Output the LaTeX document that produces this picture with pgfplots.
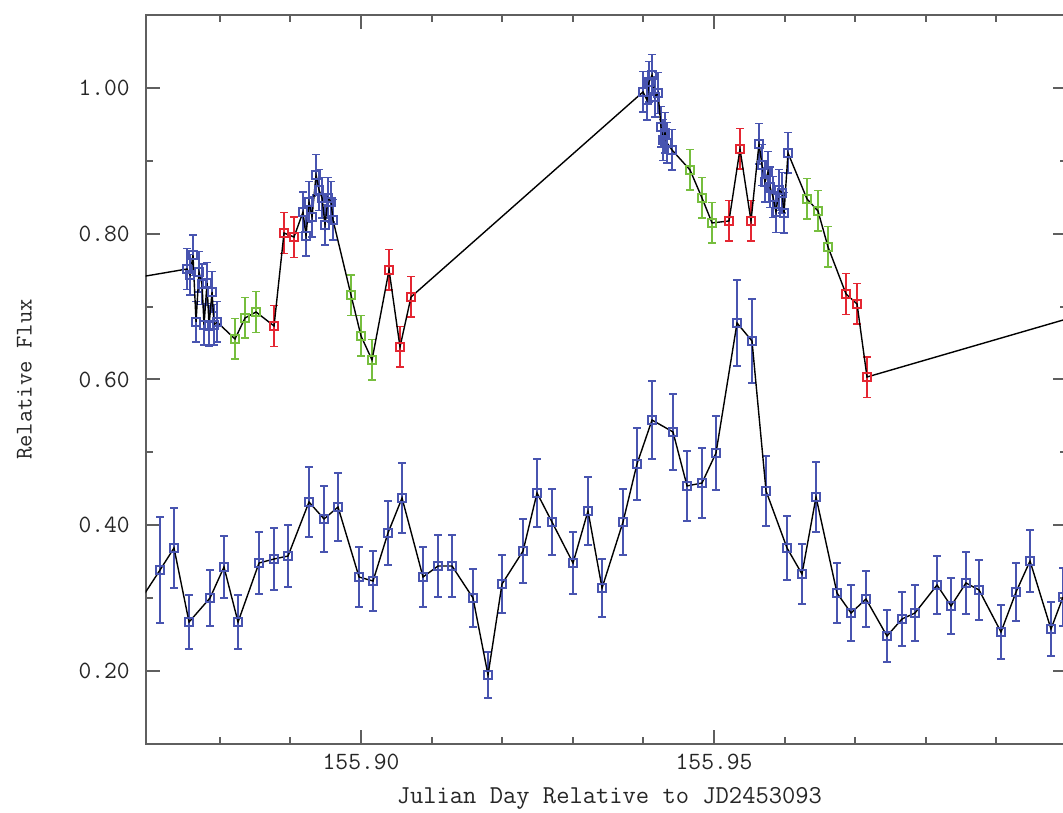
\documentclass[border=0pt]{standalone}
\usepackage{pgfplots}
\pgfplotsset{compat=1.18}
\usepackage{pgfplotstable}

\definecolor{ptblue}{RGB}{72,84,176}
\definecolor{ptgreen}{RGB}{118,190,62}
\definecolor{ptred}{RGB}{228,38,50}
\definecolor{framegray}{RGB}{95,95,95}

% time column dt: days after JD2453093 + 155.90
% g: 0 = blue, 1 = green, 2 = red, 9 = line only
\pgfplotstableread{
dt       flux    err     g
-0.03500 0.7345  0.028   9
-0.02465 0.7516  0.028   0
-0.02422 0.7434  0.028   0
-0.02380 0.7708  0.028   0
-0.02337 0.6789  0.028   0
-0.02295 0.7475  0.028   0
-0.02252 0.7310  0.028   0
-0.02224 0.6748  0.028   0
-0.02181 0.7324  0.028   0
-0.02153 0.6734  0.028   0
-0.02110 0.7201  0.028   0
-0.02082 0.6748  0.028   0
-0.02040 0.6789  0.028   0
-0.01785 0.6556  0.028   1
-0.01643 0.6844  0.028   1
-0.01487 0.6926  0.028   1
-0.01232 0.6734  0.028   2
-0.01091 0.8010  0.028   2
-0.00949 0.7955  0.028   2
-0.00822 0.8298  0.028   0
-0.00779 0.7969  0.028   0
-0.00737 0.8436  0.028   0
-0.00694 0.8230  0.028   0
-0.00637 0.8806  0.028   0
-0.00595 0.8600  0.028   0
-0.00552 0.8491  0.028   0
-0.00510 0.8120  0.028   0
-0.00467 0.8491  0.028   0
-0.00425 0.8436  0.028   0
-0.00397 0.8189  0.028   0
-0.00142 0.7159  0.028   1
 0.00000 0.6597  0.028   1
 0.00156 0.6268  0.028   1
 0.00397 0.7503  0.028   2
 0.00552 0.6446  0.028   2
 0.00708 0.7132  0.028   2
 0.03994 0.9945  0.028   0
 0.04051 0.9835  0.028   0
 0.04079 1.0082  0.028   0
 0.04122 1.0178  0.028   0
 0.04164 0.9877  0.028   0
 0.04207 0.9931  0.028   0
 0.04249 0.9465  0.028   0
 0.04278 0.9286  0.028   0
 0.04306 0.9383  0.028   0
 0.04334 0.9245  0.028   0
 0.04405 0.9149  0.028   0
 0.04660 0.8875  0.028   1
 0.04830 0.8491  0.028   1
 0.04972 0.8148  0.028   1
 0.05212 0.8175  0.028   2
 0.05368 0.9163  0.028   2
 0.05524 0.8175  0.028   2
 0.05637 0.9232  0.028   0
 0.05680 0.8943  0.028   0
 0.05722 0.8710  0.028   0
 0.05765 0.8847  0.028   0
 0.05793 0.8641  0.028   0
 0.05836 0.8504  0.028   0
 0.05878 0.8298  0.028   0
 0.05921 0.8600  0.028   0
 0.05963 0.8559  0.028   0
 0.05992 0.8285  0.028   0
 0.06048 0.9108  0.028   0
 0.06317 0.8477  0.028   1
 0.06473 0.8312  0.028   1
 0.06615 0.7818  0.028   1
 0.06870 0.7173  0.028   2
 0.07026 0.7036  0.028   2
 0.07167 0.6034  0.028   2
 0.10467 0.6963  0.028   9
}\uppercurve

\pgfplotstableread{
dt       flux    err     g
-0.03272 0.2755  0.0400  9
-0.02847 0.3386  0.0727  0
-0.02649 0.3688  0.0549  0
-0.02436 0.2672  0.0370  0
-0.02139 0.3002  0.0384  0
-0.01941 0.3427  0.0425  0
-0.01742 0.2672  0.0370  0
-0.01445 0.3482  0.0425  0
-0.01232 0.3537  0.0425  0
-0.01034 0.3578  0.0425  0
-0.00737 0.4319  0.0480  0
-0.00524 0.4086  0.0453  0
-0.00326 0.4250  0.0467  0
-0.00028 0.3290  0.0412  0
 0.00170 0.3235  0.0412  0
 0.00382 0.3894  0.0439  0
 0.00581 0.4374  0.0480  0
 0.00878 0.3290  0.0412  0
 0.01091 0.3441  0.0425  0
 0.01289 0.3441  0.0425  0
 0.01586 0.3002  0.0398  0
 0.01799 0.1945  0.0316  0
 0.01997 0.3194  0.0398  0
 0.02295 0.3647  0.0439  0
 0.02493 0.4443  0.0467  0
 0.02705 0.4045  0.0453  0
 0.03003 0.3482  0.0425  0
 0.03215 0.4196  0.0467  0
 0.03414 0.3139  0.0398  0
 0.03711 0.4045  0.0453  0
 0.03909 0.4841  0.0494  0
 0.04122 0.5444  0.0535  0
 0.04419 0.5280  0.0521  0
 0.04618 0.4539  0.0480  0
 0.04830 0.4580  0.0480  0
 0.05028 0.4991  0.0508  0
 0.05326 0.6775  0.0590  0
 0.05538 0.6528  0.0576  0
 0.05737 0.4470  0.0480  0
 0.06034 0.3688  0.0439  0
 0.06246 0.3331  0.0412  0
 0.06445 0.4388  0.0480  0
 0.06742 0.3070  0.0412  0
 0.06941 0.2796  0.0384  0
 0.07153 0.2988  0.0384  0
 0.07450 0.2480  0.0357  0
 0.07663 0.2714  0.0370  0
 0.07847 0.2796  0.0384  0
 0.08159 0.3180  0.0398  0
 0.08357 0.2892  0.0384  0
 0.08569 0.3208  0.0425  0
 0.08754 0.3112  0.0412  0
 0.09065 0.2535  0.0370  0
 0.09278 0.3084  0.0398  0
 0.09476 0.3509  0.0425  0
 0.09773 0.2576  0.0370  0
 0.09943 0.3015  0.0398  0
}\lowercurve

\pgfplotsset{
  fluxpts/.style={
    only marks, mark=square, mark size=2.1pt, line width=0.8pt,
    error bars/y dir=both, error bars/y explicit,
    error bars/error bar style={line width=1pt},
    error bars/error mark options={rotate=90, mark size=1.9pt, line width=0.9pt},
  },
}

\begin{document}
\begin{tikzpicture}
\begin{axis}[
  name=ax,
  scale only axis,
  width=460.65pt, height=364.4pt,
  xmin=-0.0305, xmax=0.10,
  ymin=0.10, ymax=1.10,
  xtick={0,0.05}, xticklabels={155.90,155.95},
  minor xtick={-0.02,-0.01,0.01,0.02,0.03,0.04,0.06,0.07,0.08,0.09},
  ytick={0.2,0.4,0.6,0.8,1.0}, yticklabels={0.20,0.40,0.60,0.80,1.00},
  minor ytick={0.3,0.5,0.7,0.9},
  tick align=inside,
  major tick length=7pt, minor tick length=3.5pt,
  axis line style={framegray, line width=1pt},
  every tick/.style={framegray, line width=1pt},
  tick label style={font=\fontsize{12.4}{14}\ttfamily, text=black!85},
  xticklabel style={inner sep=0pt, yshift=-5pt},
  yticklabel style={inner sep=0pt, xshift=-7.85pt},
  xlabel={Julian Day Relative to JD2453093},
  ylabel={Relative Flux},
  xlabel style={font=\fontsize{12.9}{15}\ttfamily, text=black!85,
    at={(axis description cs:0.5033,-0.0741)}, anchor=center},
  ylabel style={font=\fontsize{12.0}{14}\ttfamily, text=black!85,
    at={(axis description cs:-0.1316,0.5)}, anchor=center},
  clip=true,
]
% upper light curve: coloured points with error bars
\addplot[ptblue, fluxpts, restrict expr to domain={\thisrow{g}}{-0.5:0.5}]
  table[x=dt, y=flux, y error=err] {\uppercurve};
\addplot[ptgreen, fluxpts, restrict expr to domain={\thisrow{g}}{0.5:1.5}]
  table[x=dt, y=flux, y error=err] {\uppercurve};
\addplot[ptred, fluxpts, restrict expr to domain={\thisrow{g}}{1.5:2.5}]
  table[x=dt, y=flux, y error=err] {\uppercurve};
\addplot[black, line width=0.7pt, no marks] table[x=dt, y=flux] {\uppercurve};

% lower light curve
\addplot[ptblue, fluxpts, restrict expr to domain={\thisrow{g}}{-0.5:0.5}]
  table[x=dt, y=flux, y error=err] {\lowercurve};
\addplot[black, line width=0.7pt, no marks] table[x=dt, y=flux] {\lowercurve};
\end{axis}
\pgfresetboundingbox
\useasboundingbox ([shift={(-72.85pt,-34.05pt)}]ax.south west)
  rectangle ([shift={(458.65pt,7.55pt)}]ax.north west);
\end{tikzpicture}
\end{document}
